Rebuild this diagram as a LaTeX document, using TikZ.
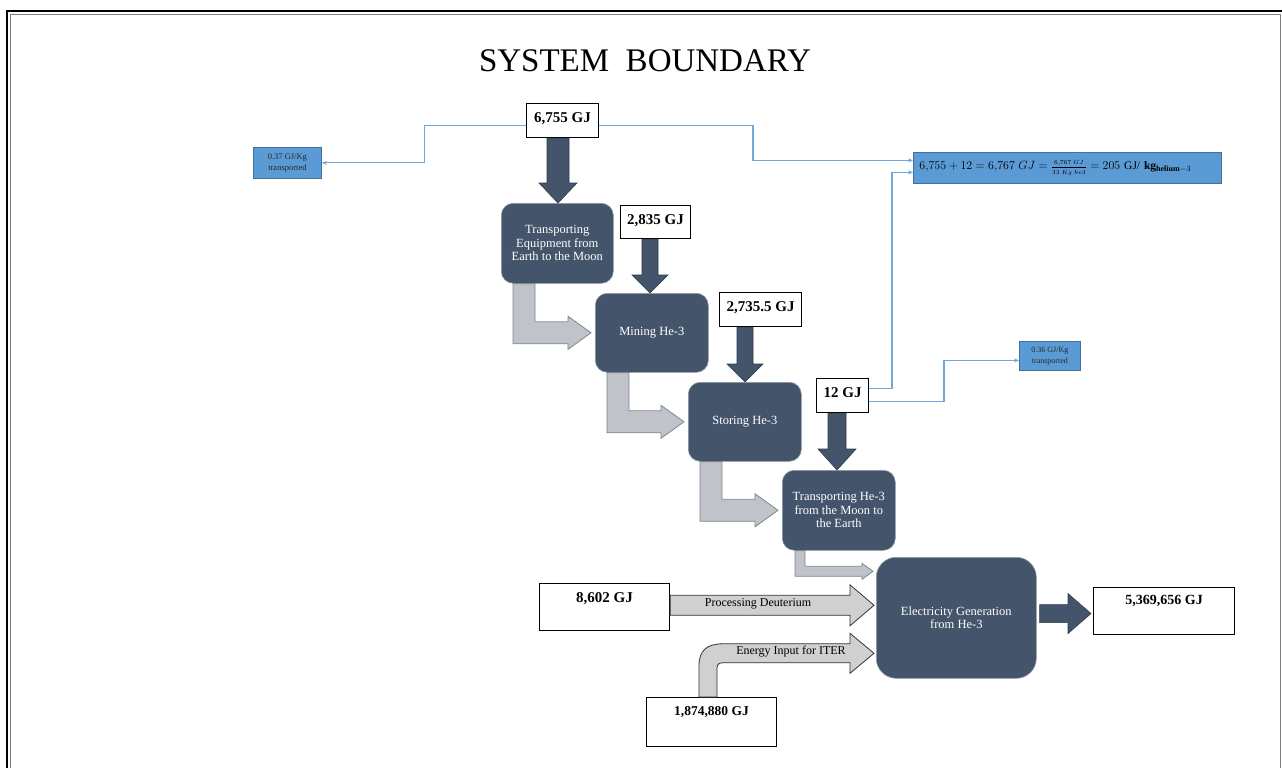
\documentclass[tikz,border=0pt]{standalone}
\usepackage{fontspec}
\setmainfont{Liberation Serif}
\usetikzlibrary{calc,arrows.meta}
\definecolor{slate}{HTML}{44546A}
\definecolor{slateline}{HTML}{2F3B4B}
\definecolor{boxblue}{HTML}{5B9BD5}
\definecolor{boxblueline}{HTML}{41719C}
\definecolor{lineblue}{HTML}{6FA8DC}
\definecolor{lgray}{HTML}{C0C4CA}
\definecolor{lgrayline}{HTML}{7E868F}
\definecolor{pgray}{HTML}{D0D0D0}
\newcommand\DArrow[6]{%
  \path[darkarrow] let \p1=(#2), \p2=(#3) in
   (#1pt-#4pt,\y1) -- (#1pt-#4pt,\y2+#6pt) -- (#1pt-#5pt,\y2+#6pt) -- (#1pt,\y2)
   -- (#1pt+#5pt,\y2+#6pt) -- (#1pt+#4pt,\y2+#6pt) -- (#1pt+#4pt,\y1) -- cycle;}
\newcommand\RArrow[6]{%
  \path[#6] let \p1=(#1), \p2=(#2) in
   (\x1,\y2+#3) -- (\x2-#5,\y2+#3) -- (\x2-#5,\y2+#4) -- (\x2,\y2)
   -- (\x2-#5,\y2-#4) -- (\x2-#5,\y2-#3) -- (\x1,\y2-#3) -- cycle;}
\newcommand\LArrow[5]{%
  \path[grayarrow] let \p1=(#1), \p2=(#2) in
   (\x1,\y1) -- (\x1,\y2-#3/2) -- (\x2-#5,\y2-#3/2) -- (\x2-#5,\y2-#4) -- (\x2,\y2)
   -- (\x2-#5,\y2+#4) -- (\x2-#5,\y2+#3/2) -- (\x1+#3,\y2+#3/2) -- (\x1+#3,\y1) -- cycle;}
\begin{document}
\begin{tikzpicture}[x=1pt,y=-1pt,
  gjbox/.style={draw=black, line width=1.1pt, fill=white, inner sep=0pt, anchor=north west,
    font=\fontsize{15}{18}\selectfont\bfseries, text height=10pt, text depth=6pt},
  lowbox/.style={draw=black, line width=1.1pt, fill=white, inner sep=0pt, anchor=north west},
  lowlabel/.style={anchor=north, inner sep=0pt, yshift=-9pt, font=\fontsize{15}{18}\selectfont\bfseries},
  darkbox/.style={fill=slate, draw=slate!60!white, line width=0.6pt, rounded corners=12pt,
    anchor=north west, inner sep=2pt, text=white, align=center, font=\fontsize{12.5}{13.5}\selectfont},
  bluebox/.style={fill=boxblue, draw=boxblueline, line width=0.8pt, anchor=north west,
    inner sep=0pt, align=center, text=black!85},
  bluecon/.style={draw=lineblue, line width=1.1pt, -{Stealth[length=5pt,width=4pt]}},
  darkarrow/.style={fill=slate, draw=slateline, line width=0.6pt},
  grayarrow/.style={fill=lgray, draw=lgrayline, line width=0.8pt},
  lightarrow/.style={fill=pgray, draw=black!80, line width=0.8pt},
  flowtext/.style={inner sep=0pt, font=\fontsize{12}{14}\selectfont}
]
\useasboundingbox (0,0) rectangle (1282,768);
% frame
\draw[black, line width=2.5pt] (7,768) -- (7,11) -- (1282,11);
\draw[black!50, line width=1.3pt] (10.5,768) -- (10.5,14.5) -- (1280.5,14.5) -- (1280.5,768);

% title
\node[inner sep=0pt, font=\fontsize{33}{36}\selectfont] (title) at (645,61) {SYSTEM\ \ BOUNDARY};

% input boxes
\node[gjbox, minimum width=72, minimum height=34] (b6755) at (526,103) {6,755 GJ};
\node[gjbox, minimum width=70, minimum height=33] (b2835) at (620,205) {2,835 GJ};
\node[gjbox, minimum width=82, minimum height=34] (b2735) at (719,292) {2,735.5 GJ};
\node[gjbox, minimum width=52, minimum height=34] (b12) at (816,378) {12 GJ};

% process boxes
\node[darkbox, minimum width=112, minimum height=80] (tem) at (501,203) {Transporting\\Equipment from\\Earth to the Moon};
\node[darkbox, minimum width=113, minimum height=79] (mine) at (595,293) {Mining He-3};
\node[darkbox, minimum width=113, minimum height=79] (store) at (688,382) {Storing He-3};
\node[darkbox, minimum width=113, minimum height=80] (thm) at (782,470) {Transporting He-3\\from the Moon to\\the Earth};
\node[darkbox, rounded corners=20pt, minimum width=160, minimum height=121] (elec) at (876,557) {Electricity Generation\\from He-3};

% bottom boxes
\node[lowbox, minimum width=130, minimum height=47, label={[lowlabel]north:8,602 GJ}] (b8602) at (539,583) {};
\node[lowbox, minimum width=141, minimum height=47, label={[lowlabel, yshift=1pt, font=\fontsize{14}{17}\selectfont\bfseries]north:5,369,656 GJ}] (b5369) at (1093,587) {};
\node[lowbox, minimum width=130, minimum height=49, label={[lowlabel, font=\fontsize{13.5}{16}\selectfont\bfseries]north:1,874,880 GJ}] (b1874) at (646,697) {};

% blue boxes
\node[bluebox, minimum width=68, minimum height=31, font=\fontsize{8.5}{11.5}\selectfont] (blue37) at (253,147) {0.37 GJ/Kg\\transported};
\node[bluebox, minimum width=61, minimum height=29, font=\fontsize{8}{11}\selectfont] (blue36) at (1019,341) {0.36 GJ/Kg\\transported};
\node[bluebox, minimum width=308, minimum height=31, text width=296pt, inner xsep=6pt, align=left,
  text=black, font=\fontsize{11.5}{13}\selectfont] (eq) at (913,152)
  {$6{,}755+12=6{,}767\;GJ=\frac{\scriptscriptstyle\rule[-2pt]{0pt}{1pt}6{,}767\;GJ}{\scriptscriptstyle\rule{0pt}{7pt}33\;Kg\;he3}=205$ GJ/ \textbf{kg}$_{\mathbf{helium}-3}$};

% dark down arrows
\DArrow{558}{b6755.south}{tem.north}{11}{19}{20}
\DArrow{650}{b2835.south}{mine.north}{8}{18}{18}
\DArrow{745}{b2735.south}{store.north}{8}{18}{18}
\DArrow{837}{b12.south}{thm.north}{9}{19}{21}

% gray L arrows
\LArrow{$(tem.south west)+(12,0)$}{$(mine.west)+(-4,0)$}{22pt}{16.5pt}{23pt}
\LArrow{$(mine.south west)+(12,0)$}{$(store.west)+(-4,0)$}{22pt}{16.5pt}{23pt}
\LArrow{$(store.south west)+(12,0)$}{$(thm.west)+(-4,0)$}{22pt}{16.5pt}{23pt}
\LArrow{$(thm.south west)+(13,0)$}{$(elec.west)+(-3,-46.5)$}{10pt}{8pt}{11pt}

% processing deuterium
\RArrow{b8602.east}{$(elec.west)+(-2,-12.5)$}{10pt}{20.5pt}{24pt}{lightarrow}
\node[flowtext] (pdt) at (758,604) {Processing Deuterium};

% energy input for ITER (curved)
\path[lightarrow] let \p1=($(b1874.north west)+(53,0)$), \p2=($(elec.west)+(-2,35.5)$) in
  (\x1,\y1) -- (\x1,\y2+9.5pt-22pt) .. controls (\x1,\y2+3pt) and (\x1+8pt,\y2+9.5pt) .. (\x1+24pt,\y2+9.5pt)
  -- (\x2-24pt,\y2+9.5pt) -- (\x2-24pt,\y2+20pt) -- (\x2,\y2) -- (\x2-24pt,\y2-20pt) -- (\x2-24pt,\y2-9.5pt)
  -- (\x1+24pt,\y2-9.5pt) .. controls (\x1+20pt,\y2-9.5pt) and (\x1+18pt,\y2-11pt) .. (\x1+18pt,\y2-15pt)
  -- (\x1+18pt,\y1) -- cycle;
\node[flowtext] (eit) at (791,652) {Energy Input for ITER};

% output arrow
\RArrow{$(elec.east)+(3,0)$}{$(b5369.west)+(-2,2.5)$}{9pt}{20pt}{23pt}{darkarrow}

% blue connectors
\draw[bluecon] ($(b6755.west)+(0,5)$) -| ($(blue37.east)+(103,0)$) -- (blue37.east);
\draw[bluecon] ($(b6755.east)+(0,5)$) -| ($(eq.west)+(-160,-7.5)$) -- ($(eq.west)+(0,-7.5)$);
\draw[bluecon] ($(b12.east)+(0,-7)$) -| ($(eq.west)+(-21,4.5)$) -- ($(eq.west)+(0,4.5)$);
\draw[bluecon] ($(b12.east)+(0,6)$) -| ($(blue36.west)+(-75,4.5)$) -- ($(blue36.west)+(0,4.5)$);
\end{tikzpicture}
\end{document}
